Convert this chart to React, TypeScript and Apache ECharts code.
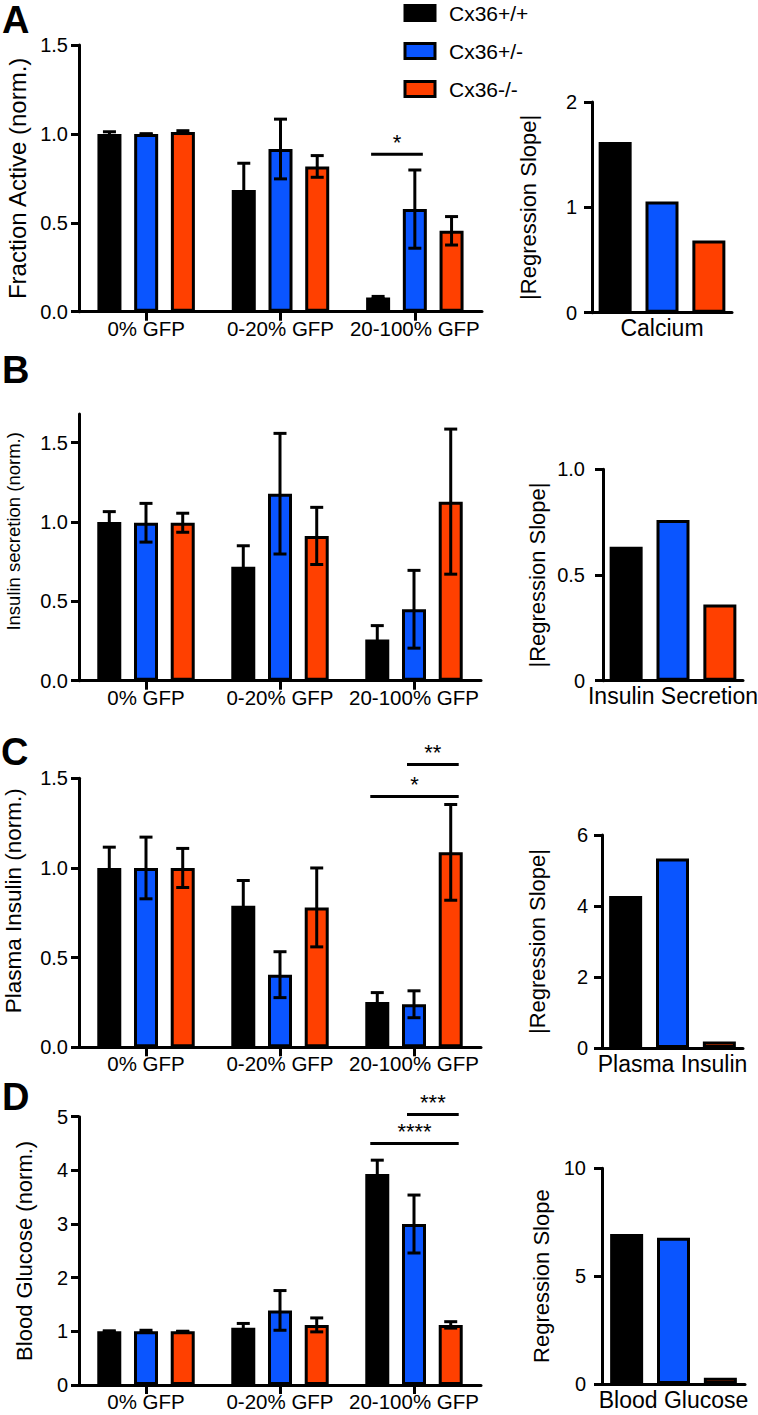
import React, { useEffect, useRef } from "react";
import * as echarts from "echarts";

// ---------- data ----------
const groups = ["0% GFP", "0-20% GFP", "20-100% GFP"];
const genotypes = ["Cx36+/+", "Cx36+/-", "Cx36-/-"];
const colors = ["#000000", "#0a55ff", "#ff4000"];

// Panel A: Fraction Active (rows = genotype, cols = group)
const aMean = [
  [1.0, 0.685, 0.08],
  [1.0, 0.915, 0.577],
  [1.01, 0.817, 0.455],
];
const aErr = [
  [0.012, 0.15, 0.006],
  [0.0, 0.168, 0.22],
  [0.008, 0.061, 0.08],
];
const aSlope = [1.62, 1.055, 0.685];
const aSig = [{ cat: 2, from: 0, to: 1, y: 0.886, label: "*" }];

// Panel B: Insulin secretion
const bMean = [
  [1.0, 0.718, 0.26],
  [0.995, 1.178, 0.45],
  [0.995, 0.912, 1.128],
];
const bErr = [
  [0.065, 0.132, 0.087],
  [0.122, 0.38, 0.245],
  [0.06, 0.18, 0.457],
];
const bSlope = [0.634, 0.76, 0.361];
const bSig: { cat: number; from: number; to: number; y: number; label: string }[] = [];

// Panel C: Plasma Insulin
const cMean = [
  [1.0, 0.79, 0.252],
  [1.0, 0.405, 0.24],
  [1.0, 0.78, 1.087],
];
const cErr = [
  [0.116, 0.14, 0.053],
  [0.172, 0.128, 0.075],
  [0.109, 0.22, 0.267],
];
const cSlope = [4.28, 5.34, 0.18];
const cSig = [
  { cat: 2, from: 0, to: 2, y: 1.398, label: "*" },
  { cat: 2, from: 1, to: 2, y: 1.577, label: "**" },
];

// Panel D: Blood Glucose
const dMean = [
  [1.0, 1.067, 3.93],
  [1.0, 1.39, 3.0],
  [1.0, 1.12, 1.12],
];
const dErr = [
  [0.01, 0.08, 0.26],
  [0.02, 0.37, 0.54],
  [0.0, 0.13, 0.06],
];
const dSlope = [6.95, 6.78, 0.29];
const dSig = [
  { cat: 2, from: 0, to: 2, y: 4.5, label: "****" },
  { cat: 2, from: 1, to: 2, y: 5.04, label: "***" },
];

// axis tick values and titles
const aTicks = [0, 0.5, 1, 1.5];
const bTicks = [0, 0.5, 1, 1.5];
const cTicks = [0, 0.5, 1, 1.5];
const dTicks = [0, 1, 2, 3, 4, 5];
const aSlopeTicks = [0, 1, 2];
const bSlopeTicks = [0, 0.5, 1];
const cSlopeTicks = [0, 2, 4, 6];
const dSlopeTicks = [0, 5, 10];
const slopeCats = ["Calcium", "Insulin Secretion", "Plasma Insulin", "Blood Glucose"];
const leftTitles = [
  "Fraction Active (norm.)",
  "Insulin secretion (norm.)",
  "Plasma Insulin (norm.)",
  "Blood Glucose (norm.)",
];
const rightTitles = ["|Regression Slope|", "|Regression Slope|", "|Regression Slope|", "Regression Slope"];
const panelLetters = ["A", "B", "C", "D"];

// ---------- styling / layout ----------
const FONT = '"Liberation Sans", Arial, Helvetica, sans-serif';
const L_BAR = 24;
const L_GAP = 0.53;
const L_SP = L_BAR * (1 + L_GAP);
const R_BAR = 33;
const R_GAP = 0.42;

const fmt1 = (v: number) => v.toFixed(1);
const fmt0 = (v: number) => String(Math.round(v));
const fmtB = (v: number) => (v === 0 ? "0" : v.toFixed(1));

const leftPanels = [
  { mean: aMean, err: aErr, sig: aSig, max: 1.5, ticks: aTicks, fmt: fmt1, grid: { left: 79, top: 45, width: 403, height: 266.7 }, nameSize: 24, nameGap: 49, namePad: 0 },
  { mean: bMean, err: bErr, sig: bSig, max: 1.68, ticks: bTicks, fmt: fmt1, grid: { left: 79, top: 414, width: 402, height: 266.7 }, nameSize: 18.5, nameGap: 56, namePad: 32 },
  { mean: cMean, err: cErr, sig: cSig, max: 1.5, ticks: cTicks, fmt: fmt1, grid: { left: 79, top: 778.3, width: 402, height: 269 }, nameSize: 22.5, nameGap: 54, namePad: 24 },
  { mean: dMean, err: dErr, sig: dSig, max: 5, ticks: dTicks, fmt: fmt0, grid: { left: 79, top: 1116.7, width: 402, height: 268.3 }, nameSize: 22, nameGap: 44, namePad: 0 },
];
const rightPanels = [
  { vals: aSlope, max: 2, ticks: aSlopeTicks, fmt: fmt0, grid: { left: 592, top: 102, width: 140, height: 210.7 }, nameGap: 53, labelMargin: 15 },
  { vals: bSlope, max: 1, ticks: bSlopeTicks, fmt: fmtB, grid: { left: 603, top: 469.3, width: 140, height: 211.4 }, nameGap: 55, labelMargin: 18 },
  { vals: cSlope, max: 6, ticks: cSlopeTicks, fmt: fmt0, grid: { left: 602, top: 835, width: 141, height: 213 }, nameGap: 54, labelMargin: 14 },
  { vals: dSlope, max: 10, ticks: dSlopeTicks, fmt: fmt0, grid: { left: 602, top: 1168.3, width: 143, height: 215.7 }, nameGap: 50, labelMargin: 16 },
];
const letterPos = [
  { x: 2, y: 1 },
  { x: 2, y: 351 },
  { x: 1, y: 733 },
  { x: 2, y: 1078 },
];

function buildOption() {
  const grid: any[] = [];
  const xAxis: any[] = [];
  const yAxis: any[] = [];
  const series: any[] = [];
  const axisLineStyle = { color: "#000", width: 3 };

  const yAxisBase = (idx: number, max: number, ticks: number[], fmt: any, name: string, nameSize: number, nameGap: number, pad: number, labelMargin: number) => ({
    type: "value",
    gridIndex: idx,
    min: 0,
    max,
    name,
    nameLocation: "middle",
    nameGap,
    nameTextStyle: { fontSize: nameSize, fontFamily: FONT, color: "#000", padding: [0, 0, 0, pad] },
    axisLine: { show: true, onZero: false, lineStyle: axisLineStyle },
    axisTick: { show: true, inside: false, length: 8, lineStyle: axisLineStyle, customValues: ticks },
    axisLabel: { show: true, customValues: ticks, formatter: fmt, fontSize: 20, fontFamily: FONT, color: "#000", margin: labelMargin },
    splitLine: { show: false },
  });

  leftPanels.forEach((p, i) => {
    const gi = grid.length;
    grid.push({ ...p.grid, containLabel: false, outerBoundsMode: "none" });
    xAxis.push({
      type: "category",
      gridIndex: gi,
      data: groups,
      axisLine: { show: true, onZero: false, lineStyle: axisLineStyle },
      axisTick: { show: true, alignWithLabel: true, length: 9, lineStyle: axisLineStyle },
      axisLabel: { interval: 0, fontSize: 20.5, fontFamily: FONT, color: "#000", margin: 6 },
    });
    yAxis.push(yAxisBase(gi, p.max, p.ticks, p.fmt, leftTitles[i], p.nameSize, p.nameGap, p.namePad, 11));
    genotypes.forEach((g, s) => {
      series.push({
        type: "bar",
        name: g,
        xAxisIndex: gi,
        yAxisIndex: gi,
        data: p.mean[s],
        barWidth: L_BAR,
        barGap: `${L_GAP * 100}%`,
        itemStyle: { color: colors[s], borderColor: "#000", borderWidth: 3 },
        z: 2,
        silent: true,
      });
    });
    const errData: number[][] = [];
    p.mean.forEach((row, s) => row.forEach((m, c) => errData.push([c, m, p.err[s][c], s])));
    series.push({
      type: "custom",
      xAxisIndex: gi,
      yAxisIndex: gi,
      z: 5,
      silent: true,
      clip: false,
      dimensions: ["cat", "mean", "err", "s"],
      encode: { x: 0, y: 1 },
      data: errData,
      renderItem: (params: any, api: any) => {
        const c = api.value(0);
        const m = api.value(1);
        const e = api.value(2);
        const s = api.value(3);
        const top = api.coord([c, m + e]);
        const bot = api.coord([c, m - e]);
        const x = top[0] + (s - 1) * L_SP;
        const st = { stroke: "#000", lineWidth: 3 };
        return {
          type: "group",
          children: [
            { type: "line", shape: { x1: x, y1: top[1], x2: x, y2: bot[1] }, style: st },
            { type: "line", shape: { x1: x - 6.5, y1: top[1], x2: x + 6.5, y2: top[1] }, style: st },
            { type: "line", shape: { x1: x - 6.5, y1: bot[1], x2: x + 6.5, y2: bot[1] }, style: st },
          ],
        };
      },
    });
    if (p.sig.length) {
      series.push({
        type: "custom",
        xAxisIndex: gi,
        yAxisIndex: gi,
        z: 6,
        silent: true,
        clip: false,
        dimensions: ["cat", "y", "from", "to"],
        encode: { x: 0, y: 1 },
        data: p.sig.map((s) => [s.cat, s.y, s.from, s.to]),
        renderItem: (params: any, api: any) => {
          const pt = api.coord([api.value(0), api.value(1)]);
          const x1 = pt[0] + (api.value(2) - 1) * L_SP - 7;
          const x2 = pt[0] + (api.value(3) - 1) * L_SP + 8;
          const label = p.sig[params.dataIndex].label;
          return {
            type: "group",
            children: [
              { type: "line", shape: { x1, y1: pt[1], x2, y2: pt[1] }, style: { stroke: "#000", lineWidth: 3 } },
              {
                type: "text",
                x: (x1 + x2) / 2,
                y: pt[1] - 12,
                style: { text: label, fill: "#000", fontSize: 22, fontFamily: FONT, align: "center", verticalAlign: "middle" },
              },
            ],
          };
        },
      });
    }
  });

  rightPanels.forEach((p, i) => {
    const gi = grid.length;
    grid.push({ ...p.grid, containLabel: false, outerBoundsMode: "none" });
    xAxis.push({
      type: "category",
      gridIndex: gi,
      data: [slopeCats[i]],
      axisLine: { show: true, onZero: false, lineStyle: axisLineStyle },
      axisTick: { show: false },
      axisLabel: { interval: 0, fontSize: 23, fontFamily: FONT, color: "#000", margin: 4 },
    });
    yAxis.push(yAxisBase(gi, p.max, p.ticks, p.fmt, rightTitles[i], 22, p.nameGap, 0, p.labelMargin));
    genotypes.forEach((g, s) => {
      series.push({
        type: "bar",
        name: g,
        xAxisIndex: gi,
        yAxisIndex: gi,
        data: [p.vals[s]],
        barWidth: R_BAR,
        barGap: `${R_GAP * 100}%`,
        itemStyle: { color: colors[s], borderColor: "#000", borderWidth: 3 },
        z: 2,
        silent: true,
      });
    });
  });

  return {
    animation: false,
    backgroundColor: "#ffffff",
    textStyle: { fontFamily: FONT },
    grid,
    xAxis,
    yAxis,
    series,
    legend: {
      data: genotypes,
      orient: "vertical",
      left: 403.5,
      top: 2.5,
      padding: 0,
      icon: "rect",
      itemWidth: 30,
      itemHeight: 15,
      itemGap: 17,
      selectedMode: false,
      itemStyle: { borderColor: "#000", borderWidth: 3 },
      textStyle: { fontSize: 21, fontFamily: FONT, color: "#000", padding: [0, 0, 0, 9] },
    },
    graphic: panelLetters.map((t, i) => ({
      type: "text",
      x: letterPos[i].x,
      y: letterPos[i].y,
      style: { text: t, fontSize: 38, fontWeight: "bold", fontFamily: FONT, fill: "#000", verticalAlign: "top", align: "left" },
    })),
  };
}

export default function App() {
  const ref = useRef<HTMLDivElement>(null);
  useEffect(() => {
    if (!ref.current) return;
    const chart = echarts.init(ref.current, undefined, { renderer: "svg" });
    chart.setOption(buildOption() as any);
    return () => chart.dispose();
  }, []);
  return (
    <div
      ref={ref}
      style={{ position: "absolute", left: 0, top: 0, width: 758, height: 1415, background: "#fff" }}
    />
  );
}
